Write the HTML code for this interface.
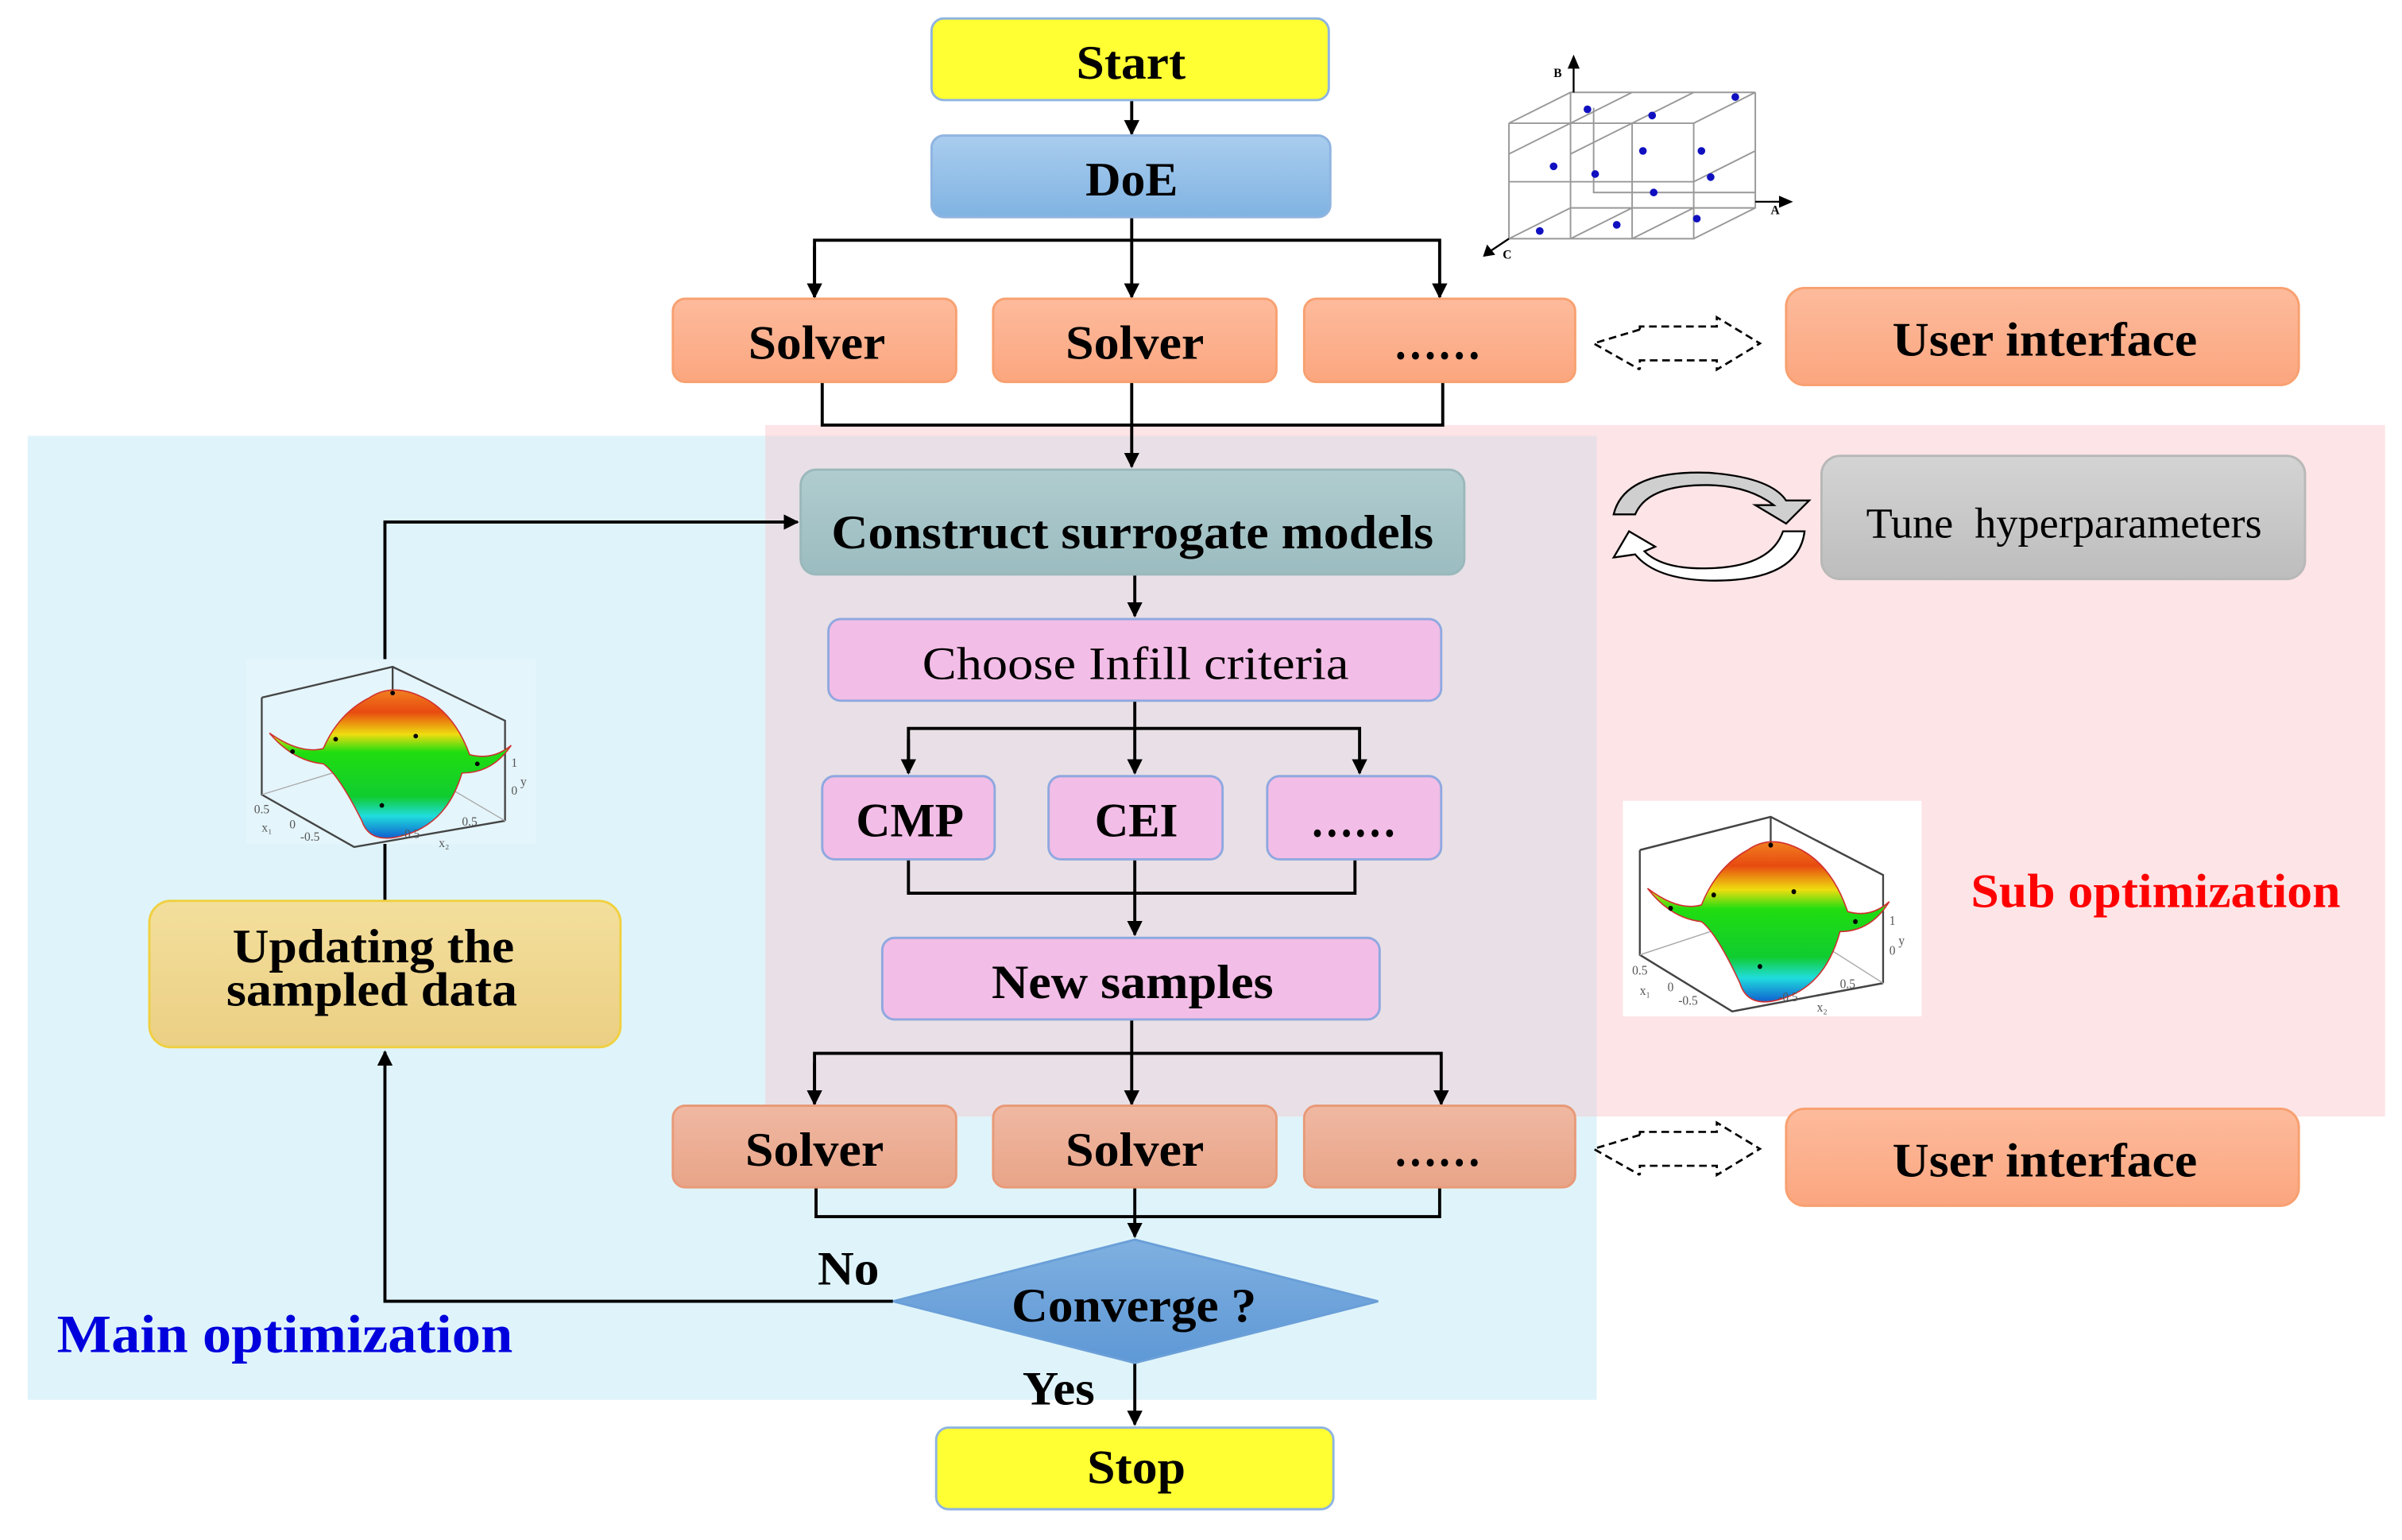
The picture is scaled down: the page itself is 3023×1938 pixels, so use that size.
<!DOCTYPE html>
<html><head><meta charset="utf-8"><style>
html,body{margin:0;padding:0;background:#fff;}
svg{display:block;}
text{font-family:"Liberation Serif",serif;}
</style></head><body>
<svg width="3023" height="1938" viewBox="0 0 1560 1000" preserveAspectRatio="none" xmlns="http://www.w3.org/2000/svg">
<defs>
<linearGradient id="sal" x1="0" y1="0" x2="0" y2="1"><stop offset="0" stop-color="#fdbb9c"/><stop offset="1" stop-color="#fba67f"/></linearGradient>
<linearGradient id="sal2" x1="0" y1="0" x2="0" y2="1"><stop offset="0" stop-color="#f0b8a2"/><stop offset="1" stop-color="#e8a488"/></linearGradient>
<linearGradient id="blu" x1="0" y1="0" x2="0" y2="1"><stop offset="0" stop-color="#a9cdee"/><stop offset="1" stop-color="#80b3e2"/></linearGradient>
<linearGradient id="gry" x1="0" y1="0" x2="0" y2="1"><stop offset="0" stop-color="#d4d4d4"/><stop offset="1" stop-color="#bdbdbd"/></linearGradient>
<linearGradient id="tea" x1="0" y1="0" x2="0" y2="1"><stop offset="0" stop-color="#b0cccf"/><stop offset="1" stop-color="#9bbcc0"/></linearGradient>
<linearGradient id="gold" x1="0" y1="0" x2="0" y2="1"><stop offset="0" stop-color="#f3df9c"/><stop offset="1" stop-color="#ebcf84"/></linearGradient>
<linearGradient id="dia" x1="0" y1="0" x2="0" y2="1"><stop offset="0" stop-color="#7fb0e0"/><stop offset="1" stop-color="#5e98d6"/></linearGradient>
<linearGradient id="surf" x1="0" y1="0" x2="0" y2="1"><stop offset="0" stop-color="#f08020"/><stop offset="0.15" stop-color="#e84a10"/><stop offset="0.3" stop-color="#eedd10"/><stop offset="0.42" stop-color="#20dd10"/><stop offset="0.72" stop-color="#10cc30"/><stop offset="0.85" stop-color="#20dddd"/><stop offset="1" stop-color="#1060d0"/></linearGradient>
<marker id="ah" markerWidth="10" markerHeight="10" refX="9" refY="5" orient="auto" markerUnits="userSpaceOnUse"><path d="M0,0 L10,5 L0,10 z" fill="#000"/></marker>
<g id="plot">
  <g fill="none" stroke="#444" stroke-width="1.2">
    <path d="M10,25 L95,5 L168,40 L168,105 M10,25 L10,88 L70,122 L168,105 M95,5 L95,60"/>
    <path d="M10,88 L95,62 L168,105" stroke="#aaa" stroke-width="0.7"/>
  </g>
  <path d="M15,48 Q35,62 50,58 Q60,35 80,25 Q95,15 115,25 Q135,35 145,62 Q160,66 172,56 Q160,74 140,74 Q130,108 100,115 Q80,120 75,105 Q60,75 50,68 Q30,66 15,48 z" fill="url(#surf)" stroke="#d03030" stroke-width="0.8"/>
  <g fill="#000"><circle cx="58" cy="52" r="1.5"/><circle cx="110" cy="50" r="1.5"/><circle cx="88" cy="95" r="1.5"/><circle cx="95" cy="22" r="1.5"/><circle cx="30" cy="60" r="1.5"/><circle cx="150" cy="68" r="1.5"/></g>
  <g font-size="8" fill="#555" font-family="Liberation Sans,sans-serif"><text x="172" y="70">1</text><text x="172" y="88">0</text><text x="178" y="82">y</text><text x="5" y="100">0.5</text><text x="28" y="110">0</text><text x="35" y="118">-0.5</text><text x="100" y="116">-0.5</text><text x="140" y="108">0.5</text><text x="10" y="112">x₁</text><text x="125" y="122">x₂</text></g>
</g>
</defs>

<rect x="18" y="283" width="1019" height="626" fill="#dff4fa"/>
<rect x="497" y="276" width="1052" height="449" fill="#fde4e6"/>
<rect x="497" y="283" width="540" height="442" fill="#e8e0e6"/>

<g stroke="#000" stroke-width="2" fill="none">
<line x1="735" y1="65" x2="735" y2="87" marker-end="url(#ah)"/>
<line x1="735" y1="141" x2="735" y2="193" marker-end="url(#ah)"/>
<polyline points="529,193 529,156 935,156 935,193" marker-end="url(#ah)"/>
<line x1="529" y1="160" x2="529" y2="193" marker-end="url(#ah)"/>
<polyline points="534,248 534,276 937,276 937,248"/>
<line x1="735" y1="248" x2="735" y2="303" marker-end="url(#ah)"/>
<line x1="737" y1="373" x2="737" y2="400" marker-end="url(#ah)"/>
<polyline points="590,502 590,473 883,473 883,502" marker-end="url(#ah)"/>
<line x1="590" y1="480" x2="590" y2="502" marker-end="url(#ah)"/>
<line x1="737" y1="455" x2="737" y2="502" marker-end="url(#ah)"/>
<polyline points="590,558 590,580 880,580 880,558"/>
<line x1="737" y1="558" x2="737" y2="607" marker-end="url(#ah)"/>
<polyline points="529,717 529,684 936,684 936,717" marker-end="url(#ah)"/>
<line x1="529" y1="690" x2="529" y2="717" marker-end="url(#ah)"/>
<line x1="735" y1="662" x2="735" y2="717" marker-end="url(#ah)"/>
<polyline points="530,771 530,790 935,790 935,771"/>
<line x1="737" y1="771" x2="737" y2="803" marker-end="url(#ah)"/>
<line x1="737" y1="885" x2="737" y2="925" marker-end="url(#ah)"/>
<polyline points="580,845 250,845 250,683" marker-end="url(#ah)"/>
<polyline points="250,585 250,339 518,339" marker-end="url(#ah)"/>
</g>

<g stroke-width="1.5">
<rect x="605" y="12" width="258" height="53" rx="8" fill="#ffff33" stroke="#8fb4e0"/>
<rect x="605" y="88" width="259" height="53" rx="8" fill="url(#blu)" stroke="#8fb4e0"/>
<rect x="437" y="194" width="184" height="54" rx="8" fill="url(#sal)" stroke="#f8a070"/>
<rect x="645" y="194" width="184" height="54" rx="8" fill="url(#sal)" stroke="#f8a070"/>
<rect x="847" y="194" width="176" height="54" rx="8" fill="url(#sal)" stroke="#f8a070"/>
<rect x="1160" y="187" width="333" height="63" rx="12" fill="url(#sal)" stroke="#f8a070"/>
<rect x="520" y="305" width="431" height="68" rx="10" fill="url(#tea)" stroke="#9ab8bc"/>
<rect x="1183" y="296" width="314" height="80" rx="12" fill="url(#gry)" stroke="#b8b8b8"/>
<rect x="538" y="402" width="398" height="53" rx="8" fill="#f2bde6" stroke="#8fa8e0"/>
<rect x="534" y="504" width="112" height="54" rx="8" fill="#f2bde6" stroke="#8fa8e0"/>
<rect x="681" y="504" width="113" height="54" rx="8" fill="#f2bde6" stroke="#8fa8e0"/>
<rect x="823" y="504" width="113" height="54" rx="8" fill="#f2bde6" stroke="#8fa8e0"/>
<rect x="573" y="609" width="323" height="53" rx="8" fill="#f2bde6" stroke="#8fa8e0"/>
<rect x="97" y="585" width="306" height="95" rx="14" fill="url(#gold)" stroke="#f0d040"/>
<rect x="437" y="718" width="184" height="53" rx="8" fill="url(#sal2)" stroke="#e89a78"/>
<rect x="645" y="718" width="184" height="53" rx="8" fill="url(#sal2)" stroke="#e89a78"/>
<rect x="847" y="718" width="176" height="53" rx="8" fill="url(#sal2)" stroke="#e89a78"/>
<rect x="1160" y="720" width="333" height="63" rx="12" fill="url(#sal)" stroke="#f8a070"/>
<polygon points="737,805 895,845 737,885 580,845" fill="url(#dia)" stroke="#6a9fd8"/>
<rect x="608" y="927" width="258" height="53" rx="8" fill="#ffff33" stroke="#8fb4e0"/>
</g>

<g fill="none" stroke="#000" stroke-width="1.4" stroke-dasharray="5,3">
<path d="M1065,214 L1035,223 L1065,240 M1065,214 L1065,212 L1115,212 L1115,206 L1143,223 L1115,240 L1115,234 L1065,234 L1065,240"/>
<path d="M1065,737 L1035,746 L1065,763 M1065,737 L1065,735 L1115,735 L1115,729 L1143,746 L1115,763 L1115,757 L1065,757 L1065,763"/>
</g>

<g fill="#cfcfcf" stroke="#000" stroke-width="1.2">
<path d="M1048,334 Q1055,305 1110,307 Q1150,310 1160,325 L1175,325 L1160,340 L1140,328 L1152,328 Q1135,315 1108,315 Q1070,315 1062,334 z" />
<path d="M1172,345 Q1168,378 1110,377 Q1075,376 1062,360 L1048,362 L1058,345 L1075,355 L1068,358 Q1080,370 1110,369 Q1150,368 1158,345 z" fill="#fff"/>
</g>

<g fill="none" stroke="#999" stroke-width="1">
<path d="M980,80 L1020,60 L1140,60 L1100,80 z M980,80 L980,155 L1100,155 L1100,80 M1100,155 L1140,135 L1140,60 M1020,80 L1020,155 M1060,80 L1060,155 M980,118 L1100,118 L1140,98 M1020,60 L1020,135 L1140,135 M1060,60 L980,100 M1100,60 L1020,100 M1020,135 L980,155 M1060,135 L1020,155 M1100,135 L1060,155 M1035,70 L1035,125 L1140,125"/>
</g>
<g stroke="#000" stroke-width="1.2" fill="#000">
<line x1="1022" y1="60" x2="1022" y2="40"/><path d="M1019,44 L1022,37 L1025,44 z"/>
<line x1="1140" y1="131" x2="1160" y2="131"/><path d="M1156,128 L1163,131 L1156,134 z"/>
<line x1="980" y1="155" x2="968" y2="163"/><path d="M966,160 L964,166 L970,165 z"/>
</g>
<g font-size="8" font-family="Liberation Sans,sans-serif" font-weight="bold"><text x="1009" y="50">B</text><text x="1150" y="139">A</text><text x="976" y="168">C</text></g>
<g fill="#1010c0"><circle cx="1031" cy="71" r="2.5"/><circle cx="1073" cy="75" r="2.5"/><circle cx="1127" cy="63" r="2.5"/><circle cx="1009" cy="108" r="2.5"/><circle cx="1036" cy="113" r="2.5"/><circle cx="1067" cy="98" r="2.5"/><circle cx="1105" cy="98" r="2.5"/><circle cx="1111" cy="115" r="2.5"/><circle cx="1074" cy="125" r="2.5"/><circle cx="1000" cy="150" r="2.5"/><circle cx="1050" cy="146" r="2.5"/><circle cx="1102" cy="142" r="2.5"/></g>

<g transform="translate(160,428)"><rect x="0" y="0" width="188" height="120" fill="#e4f5fb"/><use href="#plot"/></g>
<rect x="1054" y="520" width="194" height="140" fill="#fff"/>
<g transform="translate(1055,525) scale(1,1.08)"><use href="#plot"/></g>

<g font-weight="bold" fill="#000" font-size="31" lengthAdjust="spacingAndGlyphs">
<text x="699" y="51" textLength="71" lengthAdjust="spacingAndGlyphs">Start</text>
<text x="705" y="127" textLength="60" lengthAdjust="spacingAndGlyphs">DoE</text>
<text x="486" y="233" textLength="89" lengthAdjust="spacingAndGlyphs">Solver</text>
<text x="692" y="233" textLength="90" lengthAdjust="spacingAndGlyphs">Solver</text>
<text x="905" y="233" textLength="57" lengthAdjust="spacingAndGlyphs">……</text>
<text x="1229" y="231" textLength="198" lengthAdjust="spacingAndGlyphs">User interface</text>
<text x="540" y="356" textLength="391" lengthAdjust="spacingAndGlyphs">Construct surrogate models</text>
<text x="556" y="543" textLength="70" lengthAdjust="spacingAndGlyphs">CMP</text>
<text x="711" y="543" textLength="54" lengthAdjust="spacingAndGlyphs">CEI</text>
<text x="851" y="543" textLength="56" lengthAdjust="spacingAndGlyphs">……</text>
<text x="644" y="648" textLength="183" lengthAdjust="spacingAndGlyphs">New samples</text>
<text x="151" y="625" textLength="183" lengthAdjust="spacingAndGlyphs">Updating the</text>
<text x="147" y="653" textLength="189" lengthAdjust="spacingAndGlyphs">sampled data</text>
<text x="484" y="757" textLength="90" lengthAdjust="spacingAndGlyphs">Solver</text>
<text x="692" y="757" textLength="90" lengthAdjust="spacingAndGlyphs">Solver</text>
<text x="905" y="757" textLength="57" lengthAdjust="spacingAndGlyphs">……</text>
<text x="1229" y="764" textLength="198" lengthAdjust="spacingAndGlyphs">User interface</text>
<text x="657" y="858" textLength="159" lengthAdjust="spacingAndGlyphs">Converge ?</text>
<text x="706" y="963" textLength="64" lengthAdjust="spacingAndGlyphs">Stop</text>
<text x="531" y="834" textLength="40" lengthAdjust="spacingAndGlyphs">No</text>
<text x="664" y="912" textLength="47" lengthAdjust="spacingAndGlyphs">Yes</text>
<text x="1280" y="589" fill="#ff0000" textLength="240" lengthAdjust="spacingAndGlyphs">Sub optimization</text>
<text x="37" y="878" fill="#0000dd" font-size="35" textLength="296" lengthAdjust="spacingAndGlyphs">Main optimization</text>
</g>
<g fill="#000" font-size="30">
<text x="599" y="441" textLength="277" lengthAdjust="spacingAndGlyphs">Choose Infill criteria</text>
<text x="1212" y="349" font-size="28" textLength="257" lengthAdjust="spacingAndGlyphs" xml:space="preserve">Tune  hyperparameters</text>
</g>
</svg>
</body></html>
